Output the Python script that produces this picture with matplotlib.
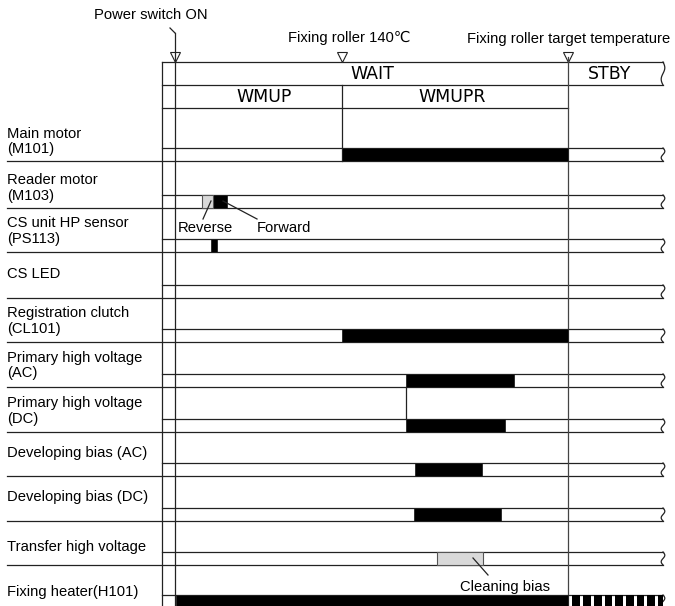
import numpy as np
import matplotlib.pyplot as plt

plt.rcParams['font.family'] = ['Liberation Sans', 'DejaVu Sans']

# signal names (one row each)
labels = ["Main motor\n(M101)", "Reader motor\n(M103)", "CS unit HP sensor\n(PS113)",
          "CS LED", "Registration clutch\n(CL101)", "Primary high voltage\n(AC)",
          "Primary high voltage\n(DC)", "Developing bias (AC)", "Developing bias (DC)",
          "Transfer high voltage", "Fixing heater(H101)"]

# time from power switch ON (arbitrary units)
t_fix140 = 167
t_target = 393
t_end = 488

# ON periods per row
on_black = [[(167, 393)], [(38, 52)], [(36, 42)], [], [(167, 393)],
            [(231, 339)], [(231, 330)], [(240, 307)], [(239, 326)], [], [(1, 393)]]
on_gray = [[], [(27, 38)], [], [], [], [], [], [], [], [(262, 308)], []]
# fixing heater intermittent control in STBY
heater_pulses = [(397, 405), (408, 416), (419, 427), (430, 437), (440, 448),
                 (451, 459), (462, 469), (472, 480), (483, 488)]

periods = ["WAIT", "STBY"]
period_x = [197, 435]
sub_periods = ["WMUP", "WMUPR"]
sub_x = [89, 277]

fig = plt.figure(figsize=(6.75, 6.06), dpi=100)
ax = fig.add_axes([0, 0, 1, 1])
ax.set_xlim(-175, 500)
ax.set_ylim(606, 0)
ax.axis('off')

lc = '#222222'
lw = 0.9
fs = 10.6
x_lab = -168
x_frame = -13
bh = 13
# row baselines (layout) and label offsets above them
row_y = [161, 208, 252, 298, 342, 387, 432, 476, 521, 565, 608]
label_dy = [19.5, 20, 21, 24, 21, 21.5, 21, 23, 24, 18, 16]


def squiggle(x, y0, y1):
    s = np.linspace(0, 1, 40)
    ax.plot(x + 1.8 * np.sin(2 * np.pi * s), y0 + (y1 - y0) * s, color=lc, lw=lw)


# header box
ax.plot([x_frame, t_end], [62, 62], color=lc, lw=lw)
ax.plot([x_frame, t_end], [85, 85], color=lc, lw=lw)
ax.plot([x_frame, t_target], [108, 108], color=lc, lw=lw)
squiggle(t_end, 62, 85)
for name, x in zip(periods, period_x):
    ax.text(x, 74, name, ha='center', va='center', fontsize=12.5, family='DejaVu Sans')
for name, x in zip(sub_periods, sub_x):
    ax.text(x, 97, name, ha='center', va='center', fontsize=12.5, family='DejaVu Sans')

# vertical timing lines
ax.plot([x_frame, x_frame], [62, 606], color=lc, lw=lw)
ax.plot([0, 0], [33, 606], color=lc, lw=lw, zorder=4)
ax.plot([-5, 0], [28, 33], color=lc, lw=lw)
ax.plot([t_fix140, t_fix140], [85, row_y[0]], color=lc, lw=lw)
ax.plot([t_target, t_target], [57, 606], color='#444444', lw=lw, zorder=4)
ax.plot([0, t_fix140, t_target], [57, 57, 57], ls='none', marker='v', ms=7.5,
        mfc='white', mec=lc, mew=0.8, zorder=3)

ax.text(-24, 15, "Power switch ON", ha='center', va='center', fontsize=fs)
ax.text(t_fix140 + 7, 38, "Fixing roller 140℃", ha='center', va='center', fontsize=fs)
ax.text(t_target + 1, 39, "Fixing roller target temperature", ha='center', va='center', fontsize=fs)

# signal rows
for i, lab in enumerate(labels):
    yb = row_y[i]
    yt = yb - bh
    ax.text(x_lab, yb - label_dy[i], lab, ha='left', va='center', fontsize=fs, linespacing=1.15)
    ax.plot([x_frame, t_end], [yt, yt], color=lc, lw=lw)
    ax.plot([x_lab, t_end], [yb, yb], color=lc, lw=lw)
    squiggle(t_end, yt, yb)
    for a, b in on_black[i]:
        ax.barh(yb - bh / 2, b - a, left=a, height=bh, color='black', edgecolor=lc, lw=0.6, zorder=5)
    for a, b in on_gray[i]:
        ax.barh(yb - bh / 2, b - a, left=a, height=bh, color='#d9d9d9', edgecolor='#555555', lw=0.8, zorder=5)

yb = row_y[10]
for a, b in heater_pulses:
    ax.barh(yb - bh / 2, b - a, left=a, height=bh, color='black', lw=0, zorder=5)

# primary AC -> DC link
ax.plot([on_black[5][0][0]] * 2, [row_y[5], row_y[6] - bh], color=lc, lw=lw)

# annotations
ax.text(30, 228, "Reverse", ha='center', va='center', fontsize=fs)
ax.plot([28, 36], [219, 201], color=lc, lw=lw, zorder=6)
ax.text(109, 228, "Forward", ha='center', va='center', fontsize=fs)
ax.plot([82, 48], [219, 201], color=lc, lw=lw, zorder=6)
ax.text(330, 587, "Cleaning bias", ha='center', va='center', fontsize=fs)
ax.plot([298, 313], [558, 575], color=lc, lw=lw, zorder=6)

plt.savefig("out.png", dpi=100)
